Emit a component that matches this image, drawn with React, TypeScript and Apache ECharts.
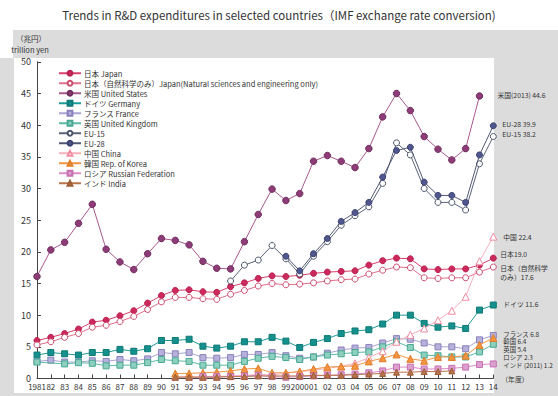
import React, { useEffect, useRef } from 'react';
import * as echarts from 'echarts';

const years = ['1981','82','83','84','85','86','87','88','89','90','91','92','93','94','95','96','97','98','99','2000','01','02','03','04','05','06','07','08','09','10','11','12','13','14'];

const japan = [6.0,6.5,7.1,7.8,8.9,9.2,9.9,10.7,11.9,13.1, 13.9,14.0,13.7,13.6,14.5,15.1,15.8,16.2,16.1,16.3, 16.6,16.8,16.9,17.0,17.9,18.6,19.0,18.9,17.3,17.2, 17.3,17.3,17.9,19.0];
const japanNSE = [5.3,5.8,6.5,7.1,8.1,8.4,9.0,9.8,10.9,12.1, 12.8,12.8,12.6,12.5,13.3,13.9,14.6,15.0,14.8,14.9, 15.1,15.4,15.6,15.7,16.5,17.1,17.6,17.5,15.9,15.8, 15.9,15.9,16.8,17.6];
const us = [16.1,20.3,21.5,24.5,27.5,20.4,18.4,17.2,19.7,22.1, 21.8,21.1,18.5,17.4,17.3,21.6,25.9,29.9,28.1,29.2, 34.3,35.2,34.3,33.3,36.3,41.3,45.0,42.3,38.2,36.2, 34.5,36.3,44.6];
const germany = [3.7,4.1,3.9,3.7,4.1,4.1,4.6,4.3,4.7,6.0, 6.0,6.2,5.1,4.8,5.1,5.8,5.8,6.5,5.9,4.9, 5.7,6.3,7.1,7.5,7.7,8.6,10.0,10.0,8.7,8.1, 8.3,7.9,10.8,11.6];
const france = [2.7,2.9,2.6,2.6,2.8,2.7,3.0,2.8,3.1,4.1, 3.9,4.1,3.3,3.2,3.3,3.8,3.8,4.1,3.6,3.2, 3.4,4.0,4.5,4.8,4.9,5.6,6.3,6.2,5.6,5.0, 5.0,4.7,6.1,6.8];
const uk = [2.6,null,2.3,2.5,2.4,2.0,2.1,2.1,2.5,3.0, 2.8,2.7,2.1,2.1,2.1,2.7,3.2,3.5,3.3,3.0, 3.4,3.7,3.9,4.1,4.2,5.0,5.8,4.9,3.7,3.6, 3.4,3.4,4.2,5.4];
const eu15 = [null,null,null,null,null,null,null,null,null,null, null,null,null,null,15.4,17.9,18.7,21.0,18.9,16.5, 19.3,21.6,24.2,25.7,27.1,30.8,37.2,35.3,30.0,27.8, 27.8,26.6,33.9,38.2];
const eu28 = [null,null,null,null,null,null,null,null,null,null, null,null,null,null,null,null,null,null,19.3,17.0, 19.7,22.1,24.8,26.2,27.8,31.8,36.0,36.5,31.0,28.9, 28.9,27.8,35.3,39.9];
const china = [null,null,null,null,null,null,null,null,null,null, 0.3,0.3,0.3,0.3,0.4,0.5,0.6,0.6,0.8,1.1, 1.3,1.6,1.9,2.4,3.3,4.3,5.8,6.9,7.9,9.2, 10.7,12.9,18.5,22.4];
const korea = [null,null,null,null,null,null,null,null,null,null, 0.8,0.8,0.9,1.0,1.2,1.5,1.6,0.9,0.9,1.1, 1.5,1.8,1.9,2.0,2.7,3.2,3.8,3.1,2.8,3.4, 3.4,3.6,5.3,6.4];
const russia = [null,null,null,null,null,null,null,null,null,null, null,null,0.3,0.3,0.3,0.4,0.5,0.3,0.2,0.3, 0.4,0.5,0.6,0.7,0.9,1.2,1.8,1.8,1.5,1.5, 1.6,1.8,2.2,2.3];
const india = [null,null,null,null,null,null,null,null,null,null, 0.2,0.2,0.2,0.2,0.3,0.3,0.4,0.4,0.4,0.4, 0.5,0.5,0.5,0.6,0.7,0.8,1.0,1.0,1.1,1.1, 1.2];

const legendNames = [
  '日本 Japan',
  '日本（自然科学のみ）Japan(Natural sciences and engineering only)',
  '米国 United States',
  'ドイツ Germany',
  'フランス France',
  '英国 United Kingdom',
  'EU-15',
  'EU-28',
  '中国 China',
  '韓国 Rep. of Korea',
  'ロシア Russian Federation',
  'インド India',
];
const endNames = ['日本', '日本（自然科学\nのみ）', '米国(2013) ', 'ドイツ ', 'フランス ', '英国 ', 'EU-15 ', 'EU-28 ', '中国 ', '韓国 ', 'ロシア ', 'インド (2011) '];
const yTicks = [0, 50, 5];
const titleText = 'Trends in R&D expenditures in selected countries（IMF exchange rate conversion)';
const unitText = ['（兆円）', 'trillion yen'];
const xAxisName = '（年度）';

const FONT = "'Noto Sans CJK JP', 'Noto Sans', sans-serif";

const dataSets = [japan, japanNSE, us, germany, france, uk, eu15, eu28, china, korea, russia, india];
// the five closely packed end labels (France, Korea, UK, Russia, India) share one text block
const clusterOrder = [4, 9, 5, 10, 11];

const lastVal = (arr: (number | null)[]) => {
  for (let k = arr.length - 1; k >= 0; k--) if (arr[k] != null) return arr[k] as number;
  return 0;
};

const styles = [
  { line: '#d8406c', fill: '#cc2a5c', border: '#b8204e', symbol: 'circle', size: 6, off: [7, -4], lh: 7, fs: 6.8 },
  { line: '#e0708c', fill: '#ffffff', border: '#cc4a6c', symbol: 'circle', size: 6, off: [7, 5], lh: 9, fs: 6.8 },
  { line: '#a8588e', fill: '#8e3c78', border: '#6e2c5c', symbol: 'circle', size: 6.5, off: [18, -1], lh: 7, fs: 6.8 },
  { line: '#1e9c98', fill: '#15908c', border: '#0e7a76', symbol: 'rect', size: 6, off: [10, -1], lh: 7, fs: 6.8 },
  { line: '#aaa4d4', fill: '#b6b0da', border: '#8a82bc', symbol: 'rect', size: 6, off: [10, 14.2], lh: 7.8, fs: 6.4 },
  { line: '#5cbaa6', fill: '#8ed0c0', border: '#48a892', symbol: 'rect', size: 6, off: [10, 0], lh: 7, fs: 6.8 },
  { line: '#5a6478', fill: '#ffffff', border: '#4a5468', symbol: 'circle', size: 6, off: [9, -3], lh: 7, fs: 6.8 },
  { line: '#525874', fill: '#50568e', border: '#3c4270', symbol: 'circle', size: 6, off: [9, -2], lh: 7, fs: 6.8 },
  { line: '#f4b0bc', fill: '#ffffff', border: '#f08ca2', symbol: 'triangle', size: 7, off: [10, 0], lh: 7, fs: 6.8 },
  { line: '#f39440', fill: '#f39440', border: '#e07e2a', symbol: 'triangle', size: 7, off: [10, 0], lh: 7, fs: 6.8 },
  { line: '#dc8cc6', fill: '#dca0d0', border: '#c870b2', symbol: 'rect', size: 6, off: [10, 0], lh: 7, fs: 6.8 },
  { line: '#b8744a', fill: '#b8744a', border: '#9c5c34', symbol: 'triangle', size: 6, off: [10, 0], lh: 7, fs: 6.8 },
];

export default function App() {
  const ref = useRef<HTMLDivElement>(null);
  useEffect(() => {
    if (!ref.current) return;
    const chart = echarts.init(ref.current, undefined, { renderer: 'svg' });
    const clusterText = clusterOrder.map((k) => endNames[k] + lastVal(dataSets[k]).toFixed(1)).join('\n');
    const series = dataSets.map((d, i) => {
      const s = styles[i];
      const inCluster = clusterOrder.indexOf(i);
      return {
        name: legendNames[i],
        type: 'line',
        data: d,
        connectNulls: true,
        symbol: s.symbol,
        symbolSize: s.size,
        showAllSymbol: true,
        lineStyle: { color: s.line, width: 1 },
        itemStyle: { color: s.fill, borderColor: s.border, borderWidth: 1 },
        endLabel: {
          show: inCluster <= 0,
          position: 'right',
          distance: 0,
          offset: s.off,
          fontSize: s.fs,
          lineHeight: s.lh,
          fontFamily: FONT,
          color: '#333',
          formatter: (p: any) =>
            inCluster === 0
              ? clusterText
              : endNames[i] + (Array.isArray(p.value) ? p.value[1] : p.value).toFixed(1),
        },
        emphasis: { disabled: true },
        z: 2 + i * 0.01,
      };
    });
    chart.setOption({
      animation: false,
      textStyle: { fontFamily: FONT },
      title: {
        text: titleText,
        left: 'center',
        top: 4,
        textStyle: { fontSize: 11.5, fontWeight: 'normal', color: '#333', fontFamily: FONT },
      },
      graphic: [
        { type: 'rect', silent: true, z: -100, shape: { x: 13, y: 30, width: 545, height: 366 }, style: { fill: '#dcdcdc' } },
        { type: 'rect', silent: true, z: -100, shape: { x: 0, y: 58, width: 13, height: 338 }, style: { fill: '#dcdcdc' } },
        { type: 'rect', silent: true, z: -99, shape: { x: 14, y: 58, width: 480, height: 335 }, style: { fill: '#ffffff' } },
        { type: 'text', silent: true, z: 10, x: 31, y: 38, style: { text: unitText[0], fontSize: 7.5, fontFamily: FONT, fill: '#333', textAlign: 'center', textVerticalAlign: 'middle' } },
        { type: 'text', silent: true, z: 10, x: 30, y: 49, style: { text: unitText[1], fontSize: 7.5, fontFamily: FONT, fill: '#333', textAlign: 'center', textVerticalAlign: 'middle' } },
      ],
      legend: {
        orient: 'vertical',
        left: 58,
        top: 69.5,
        padding: 0,
        itemWidth: 22,
        itemHeight: 6,
        itemGap: 2.5,
        data: legendNames,
        textStyle: { fontSize: 7.5, lineHeight: 7, color: '#333', fontFamily: FONT, padding: [0, 0, 0, -2] },
        selectedMode: false,
      },
      grid: { left: 37, right: 64.7, top: 61.8, bottom: 17.5, containLabel: false },
      xAxis: {
        type: 'category',
        data: years,
        boundaryGap: false,
        name: xAxisName,
        nameLocation: 'end',
        nameGap: 8,
        nameTextStyle: { fontSize: 6.8, color: '#333', fontFamily: FONT, padding: [0, 0, 5, 0] },
        axisLine: { lineStyle: { color: '#444', width: 1 } },
        axisTick: { inside: true, length: 4, lineStyle: { color: '#444' } },
        axisLabel: { interval: 0, fontSize: 8, color: '#333', margin: 4, fontFamily: FONT },
        splitLine: { show: false },
      },
      yAxis: {
        type: 'value',
        min: yTicks[0],
        max: yTicks[1],
        interval: yTicks[2],
        axisLine: { show: true, lineStyle: { color: '#444', width: 1 } },
        axisTick: { show: true, inside: true, length: 4, lineStyle: { color: '#444' } },
        axisLabel: { fontSize: 9, color: '#333', margin: 6, fontFamily: FONT },
        splitLine: { show: false },
      },
      series,
    });
    return () => chart.dispose();
  }, []);
  return <div ref={ref} style={{ position: 'fixed', left: 0, top: 0, width: 558, height: 396, background: '#ffffff' }} />;
}
